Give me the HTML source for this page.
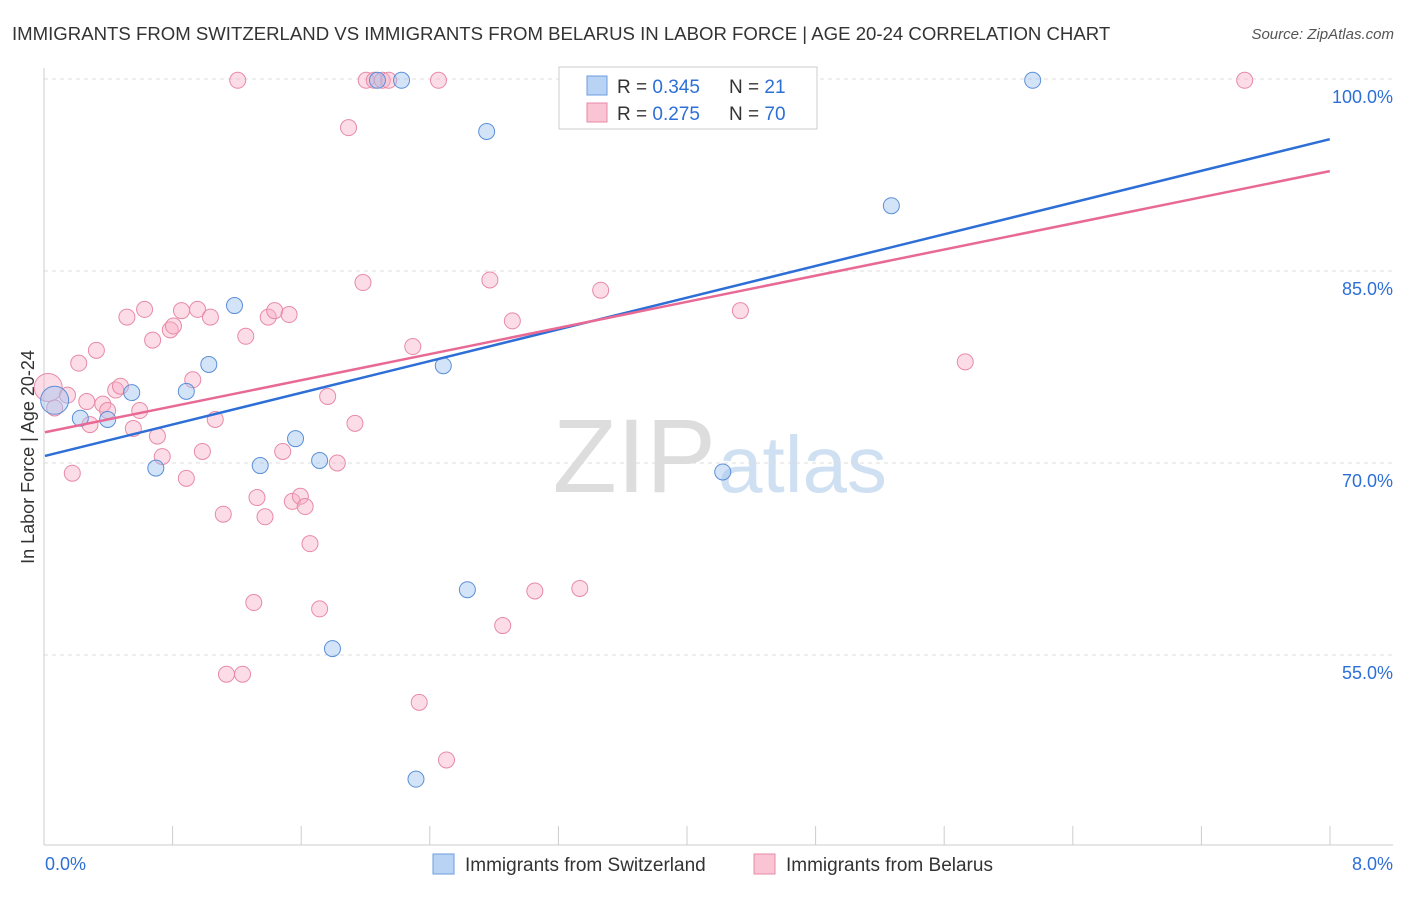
<!DOCTYPE html>
<html><head><meta charset="utf-8"><style>
body{margin:0;background:#fff;font-family:"Liberation Sans",sans-serif;}
svg text{font-family:"Liberation Sans",sans-serif;}
</style></head><body>
<svg id="chart" width="1406" height="892" xmlns="http://www.w3.org/2000/svg">
<text x="12" y="40" font-size="18.6" fill="#333">IMMIGRANTS FROM SWITZERLAND VS IMMIGRANTS FROM BELARUS IN LABOR FORCE | AGE 20-24 CORRELATION CHART</text>
<text x="1394" y="39" font-size="15" fill="#555" text-anchor="end" font-style="italic">Source: ZipAtlas.com</text>
<text x="716" y="492" font-size="105" fill="#ddd" text-anchor="end" font-family="Liberation Serif">ZIP</text>
<text x="718" y="492" font-size="80" fill="#cfe0f3">atlas</text>
<g id="grid"></g>
<line x1="44" y1="68" x2="44" y2="845" stroke="#ccc"/>
<line x1="44" y1="845" x2="1393" y2="845" stroke="#ccc"/>
<text x="34" y="457" font-size="18" fill="#333" text-anchor="middle" transform="rotate(-90 34 457)">In Labor Force | Age 20-24</text>
<g id="pts"></g>
<g id="lines"></g>
<g>
<rect x="559" y="67" width="258" height="62" fill="#fff" stroke="#ccc"/>
<rect x="587" y="76" width="20" height="19" fill="#b8d3f3" stroke="#6d9be0"/>
<rect x="587" y="103" width="20" height="19" fill="#f9c4d3" stroke="#e88aa7"/>
<text x="617" y="93" font-size="19" fill="#333">R = <tspan fill="#2d6fd6">0.345</tspan></text>
<text x="729" y="93" font-size="19" fill="#333">N = <tspan fill="#2d6fd6"> 21</tspan></text>
<text x="617" y="120" font-size="19" fill="#333">R = <tspan fill="#2d6fd6">0.275</tspan></text>
<text x="729" y="120" font-size="19" fill="#333">N = <tspan fill="#2d6fd6">70</tspan></text>
</g>
<g>
<rect x="433" y="854" width="21" height="20" fill="#b8d3f3" stroke="#6d9be0"/>
<text x="465" y="871" font-size="19" fill="#333">Immigrants from Switzerland</text>
<rect x="754" y="854" width="21" height="20" fill="#f9c4d3" stroke="#e88aa7"/>
<text x="786" y="871" font-size="19" fill="#333">Immigrants from Belarus</text>
</g>
</svg>
<script>
const yTicks=[100,85,70,55];
const xTickLabels=["0.0%","8.0%"];
const blueX=[0.06,0.22,0.39,0.54,0.69,0.88,1.02,1.18,1.34,1.56,1.71,1.79,2.07,2.22,2.48,2.63,2.31,2.75,4.22,5.27,6.15];
const blueY=[74.9,73.5,73.4,75.5,69.6,75.6,77.7,82.3,69.8,71.9,70.2,55.5,99.9,99.9,77.6,60.1,45.3,95.9,69.3,90.1,99.9];
const pinkX=[0.02,0.06,0.14,0.17,0.21,0.26,0.28,0.32,0.36,0.39,0.44,0.47,0.51,0.55,0.59,0.62,0.67,0.70,0.73,0.78,0.80,0.85,0.88,0.92,0.95,0.98,1.03,1.06,1.11,1.13,1.20,1.23,1.25,1.30,1.32,1.37,1.39,1.43,1.48,1.52,1.54,1.59,1.62,1.65,1.71,1.76,1.82,1.89,1.93,1.98,2.00,2.05,2.10,2.14,2.29,2.33,2.45,2.50,2.77,2.85,2.91,3.05,3.33,3.46,3.74,3.83,4.33,5.73,7.47];
const pinkY=[75.9,74.3,75.3,69.2,77.8,74.8,73.0,78.8,74.6,74.1,75.7,76.0,81.4,72.7,74.1,82.0,79.6,72.1,70.5,80.4,80.7,81.9,68.8,76.5,82.0,70.9,81.4,73.4,66.0,53.5,99.9,53.5,79.9,59.1,67.3,65.8,81.4,81.9,70.9,81.6,67.0,67.4,66.6,63.7,58.6,75.2,70.0,96.2,73.1,84.1,99.9,99.9,99.9,99.9,79.1,51.3,99.9,46.8,84.3,57.3,81.1,60.0,60.2,83.5,99.9,99.9,81.9,77.9,99.9];
const blueLine=[70.55,95.3];
const pinkLine=[72.4,92.8];
const NS="http://www.w3.org/2000/svg";
const xs=v=>45+v*160.6, ys=v=>79+(100-v)*12.8;
function mk(t,a,p){const e=document.createElementNS(NS,t);for(const k in a)e.setAttribute(k,a[k]);p.appendChild(e);return e;}
const grid=document.getElementById('grid');
yTicks.forEach(t=>{
 const l=mk('line',{x1:44,x2:1393,y1:ys(t),y2:ys(t),stroke:'#ddd','stroke-dasharray':'4,4'},grid);
 
 
 const tx=mk('text',{x:1393,y:ys(t)+24,'font-size':18,fill:'#2d6fd6','text-anchor':'end'},grid);
 tx.textContent=t.toFixed(1)+'%';
 
 
});
for(let i=1;i<=10;i++){
 const x=44+i*128.6;
 const l=mk('line',{x1:x,x2:x,y1:826,y2:845,stroke:'#ccc'},grid);
 
 
}
xTickLabels.forEach((s,i)=>{
 const tx=mk('text',{x:i?1393:45,y:870,'font-size':18,fill:'#2d6fd6','text-anchor':i?'end':'start'},grid);
 tx.textContent=s;
 
 
});
const pts=document.getElementById('pts');
pinkX.forEach((x,i)=>{
 const c=mk('circle',{cx:xs(x),cy:ys(pinkY[i]),r:i===0?14:8,fill:'rgba(247,170,195,0.4)',stroke:'#e88aa7','stroke-width':1},pts);
 
 
});
blueX.forEach((x,i)=>{
 const c=mk('circle',{cx:xs(x),cy:ys(blueY[i]),r:i===0?14:8,fill:'rgba(160,195,240,0.45)',stroke:'#5b8fd8','stroke-width':1},pts);
 
 
});
const lines=document.getElementById('lines');
const bl=mk('line',{x1:xs(0),y1:ys(blueLine[0]),x2:xs(8),y2:ys(blueLine[1]),stroke:'#2d6fd6','stroke-width':2.5},lines);


const pl=mk('line',{x1:xs(0),y1:ys(pinkLine[0]),x2:xs(8),y2:ys(pinkLine[1]),stroke:'#e86a94','stroke-width':2.5},lines);


</script>
</body></html>
